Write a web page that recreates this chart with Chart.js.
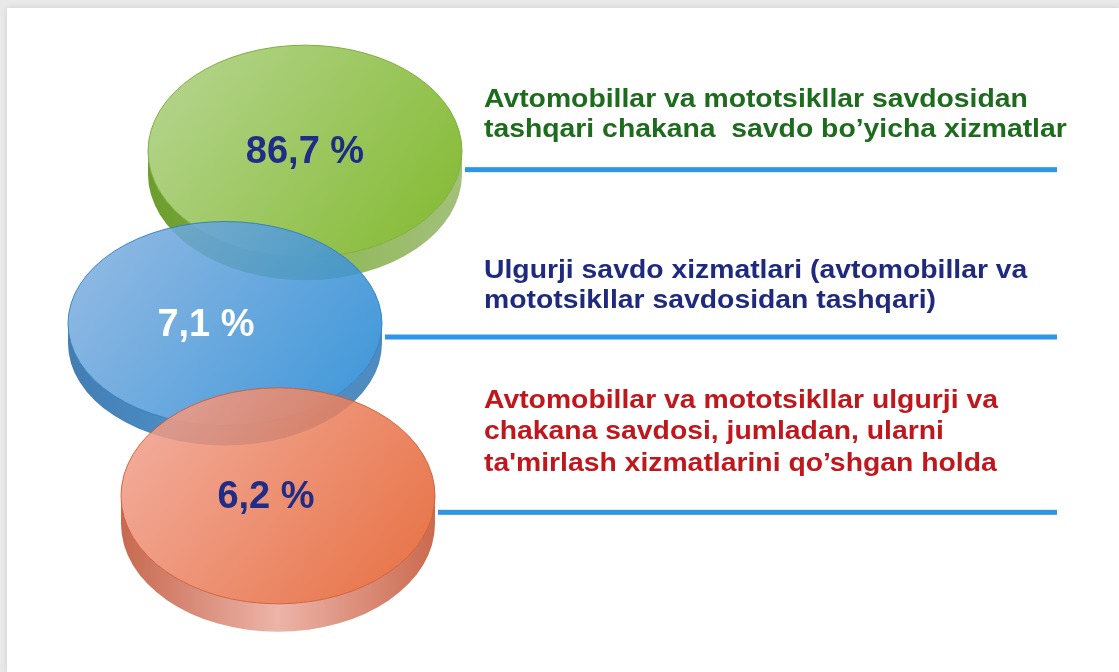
<!DOCTYPE html>
<html>
<head>
<meta charset="utf-8">
<script src="https://cdn.jsdelivr.net/npm/chart.js@4/dist/chart.umd.min.js"></script>
<style>
  html, body { margin:0; padding:0; background:#e9e9e9; }
  #panel { position:absolute; left:7px; top:8px; right:0; bottom:0; background:#fff;
           box-shadow: 0 0 6px rgba(0,0,0,0.12); }
  #wrap { position:absolute; left:0; top:0; width:1119px; height:672px; }
</style>
</head>
<body>
<div id="panel"></div>
<div id="wrap"><canvas id="discChart"></canvas></div>
<script>
// chart data
var categories = [
  ['Avtomobillar va mototsikllar savdosidan', 'tashqari chakana  savdo bo\u2019yicha xizmatlar'],
  ['Ulgurji savdo xizmatlari (avtomobillar va', 'mototsikllar savdosidan tashqari)'],
  ['Avtomobillar va mototsikllar ulgurji va', 'chakana savdosi, jumladan, ularni', 'ta\'mirlash xizmatlarini qo\u2019shgan holda']
];
var shares = [86.7, 7.1, 6.2];

// layout / style (not data)
var discX = [305, 225, 278];          // horizontal placement of each disc on the x scale
var discRy = [106, 102, 108];
var discThick = [23, 20, 28];
var labelShift = [0, -19, -12];       // percent label nudged left inside the disc
var lineShift = [19, 14, 17];         // leader line below disc centre
var textGap = [33, 30, 42];           // last text baseline above the line
var lineStep = [30, 30, 31.5];
var textColors = ['#1d6b1d', '#1f2a7f', '#c0171d'];
var valueColors = ['#1f2d86', '#ffffff', '#1f2d86'];
var discColors = [
  { topA:'#b8d694', topB:'#86bb35', sideL:'#6c9c2c', sideM:'#8db852', sideR:'#a3c07c', edge:'#7fae3e', alpha:1 },
  { topA:'#88b2e0', topB:'#2589d4', sideL:'#276aa6', sideM:'#3585c6', sideR:'#3479b4', edge:'#2a7cc0', alpha:0.87 },
  { topA:'#f2a696', topB:'#e45f2c', sideL:'#bf5336', sideM:'#eaa99c', sideR:'#c35434', edge:'#cf5834', alpha:0.87 }
];
var rx = 157;

function fmt(v){ return v.toFixed(1).replace('.', ',') + ' %'; }

function drawDisc(ctx, cx, cy, ry, thick, c){
  ctx.save();
  ctx.globalAlpha = c.alpha;
  // side of the disc
  var g = ctx.createLinearGradient(cx - rx, 0, cx + rx, 0);
  g.addColorStop(0, c.sideL);
  g.addColorStop(0.5, c.sideM);
  g.addColorStop(1, c.sideR);
  ctx.beginPath();
  ctx.moveTo(cx - rx, cy);
  ctx.lineTo(cx - rx, cy + thick);
  ctx.ellipse(cx, cy + thick, rx, ry, 0, Math.PI, 0, true);
  ctx.lineTo(cx + rx, cy);
  ctx.ellipse(cx, cy, rx, ry, 0, 0, Math.PI, false);
  ctx.closePath();
  ctx.fillStyle = g;
  ctx.fill();
  // top face
  var g2 = ctx.createLinearGradient(cx - rx, cy - ry, cx + rx * 0.8, cy + ry);
  g2.addColorStop(0, c.topA);
  g2.addColorStop(1, c.topB);
  ctx.beginPath();
  ctx.ellipse(cx, cy, rx, ry, 0, 0, Math.PI * 2);
  ctx.fillStyle = g2;
  ctx.fill();
  ctx.lineWidth = 1;
  ctx.strokeStyle = c.edge;
  ctx.stroke();
  ctx.restore();
}

var discPlugin = {
  id: 'discs',
  afterDatasetsDraw: function(chart){
    var ctx = chart.ctx;
    var meta = chart.getDatasetMeta(0);
    var right = chart.scales.x.getPixelForValue(1057);
    for (let i = 0; i < meta.data.length; i++) {
      let cx = meta.data[i].x, cy = meta.data[i].y;
      drawDisc(ctx, cx, cy, discRy[i], discThick[i], discColors[i]);

      // value label
      ctx.save();
      ctx.font = 'bold 38px "Liberation Sans", Arial, sans-serif';
      ctx.fillStyle = valueColors[i];
      ctx.textAlign = 'center';
      ctx.textBaseline = 'alphabetic';
      ctx.fillText(fmt(shares[i]), cx + labelShift[i], cy + 12);
      ctx.restore();

      // leader line
      let ly = cy + lineShift[i];
      ctx.save();
      ctx.fillStyle = '#2f95e6';
      ctx.fillRect(cx + rx + 3, ly - 3, right - (cx + rx + 3), 5);
      ctx.restore();

      // category text above the line (slightly wide face, like the original)
      let lines = categories[i];
      ctx.save();
      ctx.font = 'bold 26px "Liberation Sans", Arial, sans-serif';
      ctx.fillStyle = textColors[i];
      ctx.textAlign = 'left';
      ctx.textBaseline = 'alphabetic';
      for (let k = 0; k < lines.length; k++) {
        let by = ly - textGap[i] - (lines.length - 1 - k) * lineStep[i];
        ctx.save();
        ctx.translate(484, by);
        ctx.scale(1.09, 1);
        ctx.fillText(lines[k], 0, 0);
        ctx.restore();
      }
      ctx.restore();
    }
  }
};

var el = document.getElementById('discChart').getContext('2d');
new Chart(el, {
  type: 'scatter',
  data: {
    datasets: [{
      label: 'share',
      data: shares.map(function(v, i){ return { x: discX[i], y: i }; }),
      pointRadius: 0,
      pointHoverRadius: 0
    }]
  },
  options: {
    responsive: true,
    maintainAspectRatio: false,
    animation: false,
    events: [],
    layout: { padding: { top: 65, bottom: 90, left: 0, right: 0 } },
    plugins: { legend: { display: false }, tooltip: { enabled: false } },
    scales: {
      x: { display: false, min: 0, max: 1119 },
      y: { display: false, min: -0.5, max: 2.5, reverse: true }
    }
  },
  plugins: [discPlugin]
});
</script>
</body>
</html>
